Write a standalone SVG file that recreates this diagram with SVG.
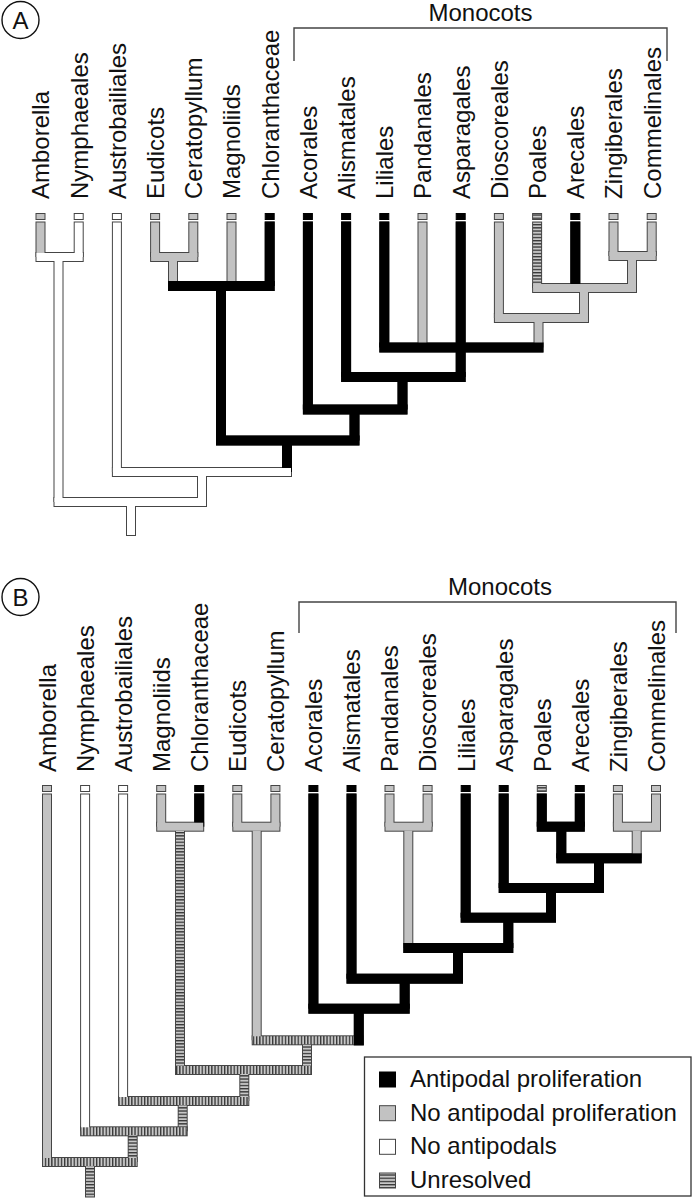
<svg xmlns="http://www.w3.org/2000/svg" width="693" height="1199" viewBox="0 0 693 1199">
<defs>
<pattern id="hs" patternUnits="userSpaceOnUse" x="0" y="0" width="10" height="3.2">
<rect width="10" height="3.2" fill="#c8c8c8"/><rect width="10" height="1.3" fill="#333"/>
</pattern>
<pattern id="vs" patternUnits="userSpaceOnUse" x="0" y="0" width="3.2" height="10">
<rect width="3.2" height="10" fill="#c8c8c8"/><rect width="1.3" height="10" fill="#333"/>
</pattern>
<style>
.lbl{font-family:"Liberation Sans",Arial,Helvetica,sans-serif;font-size:24px;fill:#111}
.o rect{fill:#454545}
.g{fill:#c2c2c2}
.w{fill:#fff}
.k{fill:#000}
.hv{fill:url(#hs)}
.hh{fill:url(#vs)}
.cg{fill:#c2c2c2;stroke:#454545;stroke-width:1}
.cw{fill:#fff;stroke:#454545;stroke-width:1}
.ck{fill:#000;stroke:#000;stroke-width:1}
.ch{fill:url(#hs);stroke:#454545;stroke-width:1}
.br{fill:none;stroke:#444;stroke-width:1.4}
.pm{fill:none;stroke:#111;stroke-width:1.4}
</style>
</defs>
<rect width="693" height="1199" fill="#fff"/>

<!-- ================= PANEL A ================= -->
<g id="A-label">
<circle class="pm" cx="20.5" cy="20" r="18.5"/>
<text class="lbl" x="20.5" y="29" text-anchor="middle" font-size="26">A</text>
</g>
<g id="A-monocots">
<path class="br" d="M294,61 V28 H667 V61"/>
<text class="lbl" x="480.5" y="21" text-anchor="middle">Monocots</text>
</g>

<g id="A-tips">
<g id="A-amborella"><rect class="cg" x="36" y="213.5" width="9" height="6"/><text class="lbl" transform="translate(49.3,199) rotate(-90)">Amborella</text></g>
<g id="A-nymphaeales"><rect class="cw" x="74.2" y="213.5" width="9" height="6"/><text class="lbl" transform="translate(87.5,199) rotate(-90)">Nymphaeales</text></g>
<g id="A-austrobailiales"><rect class="cw" x="112.4" y="213.5" width="9" height="6"/><text class="lbl" transform="translate(125.7,199) rotate(-90)">Austrobailiales</text></g>
<g id="A-eudicots"><rect class="cg" x="150.6" y="213.5" width="9" height="6"/><text class="lbl" transform="translate(163.9,199) rotate(-90)">Eudicots</text></g>
<g id="A-ceratopyllum"><rect class="cg" x="188.8" y="213.5" width="9" height="6"/><text class="lbl" transform="translate(202.1,199) rotate(-90)">Ceratopyllum</text></g>
<g id="A-magnoliids"><rect class="cg" x="227" y="213.5" width="9" height="6"/><text class="lbl" transform="translate(240.3,199) rotate(-90)">Magnoliids</text></g>
<g id="A-chloranthaceae"><rect class="ck" x="265.2" y="213.5" width="9" height="6"/><text class="lbl" transform="translate(278.5,199) rotate(-90)">Chloranthaceae</text></g>
<g id="A-acorales"><rect class="ck" x="303.4" y="213.5" width="9" height="6"/><text class="lbl" transform="translate(316.7,199) rotate(-90)">Acorales</text></g>
<g id="A-alismatales"><rect class="ck" x="341.6" y="213.5" width="9" height="6"/><text class="lbl" transform="translate(354.9,199) rotate(-90)">Alismatales</text></g>
<g id="A-liliales"><rect class="ck" x="379.8" y="213.5" width="9" height="6"/><text class="lbl" transform="translate(393.1,199) rotate(-90)">Liliales</text></g>
<g id="A-pandanales"><rect class="cg" x="418" y="213.5" width="9" height="6"/><text class="lbl" transform="translate(431.3,199) rotate(-90)">Pandanales</text></g>
<g id="A-asparagales"><rect class="ck" x="456.2" y="213.5" width="9" height="6"/><text class="lbl" transform="translate(469.5,199) rotate(-90)">Asparagales</text></g>
<g id="A-dioscoreales"><rect class="cg" x="494.4" y="213.5" width="9" height="6"/><text class="lbl" transform="translate(507.7,199) rotate(-90)">Dioscoreales</text></g>
<g id="A-poales"><rect class="ch" x="532.6" y="213.5" width="9" height="6"/><text class="lbl" transform="translate(545.9,199) rotate(-90)">Poales</text></g>
<g id="A-arecales"><rect class="ck" x="570.8" y="213.5" width="9" height="6"/><text class="lbl" transform="translate(584.1,199) rotate(-90)">Arecales</text></g>
<g id="A-zingiberales"><rect class="cg" x="609" y="213.5" width="9" height="6"/><text class="lbl" transform="translate(622.3,199) rotate(-90)">Zingiberales</text></g>
<g id="A-commelinales"><rect class="cg" x="647.2" y="213.5" width="9" height="6"/><text class="lbl" transform="translate(660.5,199) rotate(-90)">Commelinales</text></g>
</g>

<g id="A-connectors">
<g class="o">
<rect x="35.5" y="221.5" width="10" height="35.5"/>
<rect x="73.7" y="221.5" width="10" height="35.5"/>
<rect x="111.9" y="221.5" width="10" height="250.5"/>
<rect x="150.1" y="221.5" width="10" height="35.5"/>
<rect x="188.3" y="221.5" width="10" height="35.5"/>
<rect x="226.5" y="221.5" width="10" height="64.5"/>
<rect x="264.7" y="221.5" width="10" height="64.5"/>
<rect x="302.9" y="221.5" width="10" height="188"/>
<rect x="341.1" y="221.5" width="10" height="155.5"/>
<rect x="379.3" y="221.5" width="10" height="126"/>
<rect x="417.5" y="221.5" width="10" height="126"/>
<rect x="455.7" y="221.5" width="10" height="126"/>
<rect x="493.9" y="221.5" width="10" height="96.5"/>
<rect x="532.1" y="221.5" width="10" height="66.5"/>
<rect x="570.3" y="221.5" width="10" height="66.5"/>
<rect x="608.5" y="221.5" width="10" height="34.5"/>
<rect x="646.7" y="221.5" width="10" height="34.5"/>
<rect x="53.5" y="257" width="10" height="245"/>
<rect x="168" y="257" width="10" height="29"/>
<rect x="627" y="256" width="10" height="32"/>
<rect x="579" y="288" width="10" height="30"/>
<rect x="533.5" y="318" width="10" height="29.5"/>
<rect x="216" y="286" width="10" height="154.5"/>
<rect x="455.7" y="347.5" width="10" height="29.5"/>
<rect x="397.5" y="377" width="10" height="32.5"/>
<rect x="349.5" y="409.5" width="10" height="31"/>
<rect x="282" y="440.5" width="10" height="31.5"/>
<rect x="197" y="472" width="10" height="30"/>
<rect x="126" y="502" width="10" height="34"/>
<rect x="35.5" y="252" width="48.2" height="10"/>
<rect x="150.1" y="252" width="48.2" height="10"/>
<rect x="608.5" y="251" width="48.2" height="10"/>
<rect x="532.1" y="283" width="104.9" height="10"/>
<rect x="493.9" y="313" width="95.1" height="10"/>
<rect x="168" y="281" width="106.7" height="10"/>
<rect x="379.3" y="342.5" width="164.2" height="10"/>
<rect x="341.1" y="372" width="124.6" height="10"/>
<rect x="302.9" y="404.5" width="104.6" height="10"/>
<rect x="216" y="435.5" width="143.5" height="10"/>
<rect x="111.9" y="467" width="180.1" height="10"/>
<rect x="53.5" y="497" width="153.5" height="10"/>
</g>
<g id="A-fills">
<rect class="g" x="36.5" y="222.5" width="8" height="34.5"/>
<rect class="w" x="74.7" y="222.5" width="8" height="34.5"/>
<rect class="w" x="36.5" y="253" width="46.2" height="8"/>
<rect class="g" x="151.1" y="222.5" width="8" height="34.5"/>
<rect class="g" x="189.3" y="222.5" width="8" height="34.5"/>
<rect class="g" x="151.1" y="253" width="46.2" height="8"/>
<rect class="g" x="609.5" y="222.5" width="8" height="33.5"/>
<rect class="g" x="647.7" y="222.5" width="8" height="33.5"/>
<rect class="g" x="609.5" y="252" width="46.2" height="8"/>
<rect class="hv" x="533.1" y="222.5" width="8" height="65.5"/>
<rect class="k" x="570.3" y="221.5" width="10" height="66.5"/>
<rect class="g" x="628" y="260" width="8" height="28"/>
<rect class="g" x="533.1" y="284" width="102.9" height="8"/>
<rect class="g" x="494.9" y="222.5" width="8" height="95.5"/>
<rect class="g" x="580" y="292" width="8" height="26"/>
<rect class="g" x="494.9" y="314" width="93.1" height="8"/>
<rect class="k" x="379.3" y="221.5" width="10" height="126"/>
<rect class="g" x="418.5" y="222.5" width="8" height="125"/>
<rect class="k" x="455.7" y="221.5" width="10" height="126"/>
<rect class="g" x="534.5" y="322" width="8" height="25.5"/>
<rect class="k" x="379.3" y="342.5" width="164.2" height="10"/>
<rect class="k" x="341.1" y="221.5" width="10" height="155.5"/>
<rect class="k" x="455.7" y="351.5" width="10" height="25.5"/>
<rect class="k" x="341.1" y="372" width="124.6" height="10"/>
<rect class="k" x="302.9" y="221.5" width="10" height="188"/>
<rect class="k" x="397.5" y="381" width="10" height="28.5"/>
<rect class="k" x="302.9" y="404.5" width="104.6" height="10"/>
<rect class="g" x="169" y="261" width="8" height="25"/>
<rect class="g" x="227.5" y="222.5" width="8" height="63.5"/>
<rect class="k" x="264.7" y="221.5" width="10" height="64.5"/>
<rect class="k" x="168" y="281" width="106.7" height="10"/>
<rect class="k" x="216" y="290" width="10" height="150.5"/>
<rect class="k" x="349.5" y="413.5" width="10" height="27"/>
<rect class="k" x="216" y="435.5" width="143.5" height="10"/>
<rect class="w" x="112.9" y="222.5" width="8" height="249.5"/>
<rect class="k" x="282" y="444.5" width="10" height="27.5"/>
<rect class="w" x="112.9" y="468" width="178.1" height="8"/>
<rect class="w" x="54.5" y="261" width="8" height="241"/>
<rect class="w" x="198" y="476" width="8" height="26"/>
<rect class="w" x="54.5" y="498" width="151.5" height="8"/>
<rect class="w" x="127" y="506" width="8" height="29"/>
</g>
</g>

<!-- ================= PANEL B ================= -->
<g id="B-label">
<circle class="pm" cx="20.5" cy="597" r="18.5"/>
<text class="lbl" x="20.5" y="606" text-anchor="middle" font-size="26">B</text>
</g>
<g id="B-monocots">
<path class="br" d="M299,633 V602 H676 V633"/>
<text class="lbl" x="500" y="595" text-anchor="middle">Monocots</text>
</g>

<g id="B-tips">
<g id="B-amborella"><rect class="cg" x="42.5" y="785.5" width="9" height="6"/><text class="lbl" transform="translate(55.8,772) rotate(-90)">Amborella</text></g>
<g id="B-nymphaeales"><rect class="cw" x="80.6" y="785.5" width="9" height="6"/><text class="lbl" transform="translate(93.9,772) rotate(-90)">Nymphaeales</text></g>
<g id="B-austrobailiales"><rect class="cw" x="118.6" y="785.5" width="9" height="6"/><text class="lbl" transform="translate(131.9,772) rotate(-90)">Austrobailiales</text></g>
<g id="B-magnoliids"><rect class="cg" x="156.7" y="785.5" width="9" height="6"/><text class="lbl" transform="translate(170,772) rotate(-90)">Magnoliids</text></g>
<g id="B-chloranthaceae"><rect class="ck" x="194.7" y="785.5" width="9" height="6"/><text class="lbl" transform="translate(208,772) rotate(-90)">Chloranthaceae</text></g>
<g id="B-eudicots"><rect class="cg" x="232.8" y="785.5" width="9" height="6"/><text class="lbl" transform="translate(246.1,772) rotate(-90)">Eudicots</text></g>
<g id="B-ceratopyllum"><rect class="cg" x="270.9" y="785.5" width="9" height="6"/><text class="lbl" transform="translate(284.2,772) rotate(-90)">Ceratopyllum</text></g>
<g id="B-acorales"><rect class="ck" x="308.9" y="785.5" width="9" height="6"/><text class="lbl" transform="translate(322.2,772) rotate(-90)">Acorales</text></g>
<g id="B-alismatales"><rect class="ck" x="347" y="785.5" width="9" height="6"/><text class="lbl" transform="translate(360.3,772) rotate(-90)">Alismatales</text></g>
<g id="B-pandanales"><rect class="cg" x="385" y="785.5" width="9" height="6"/><text class="lbl" transform="translate(398.3,772) rotate(-90)">Pandanales</text></g>
<g id="B-dioscoreales"><rect class="cg" x="423.1" y="785.5" width="9" height="6"/><text class="lbl" transform="translate(436.4,772) rotate(-90)">Dioscoreales</text></g>
<g id="B-liliales"><rect class="ck" x="461.2" y="785.5" width="9" height="6"/><text class="lbl" transform="translate(474.5,772) rotate(-90)">Liliales</text></g>
<g id="B-asparagales"><rect class="ck" x="499.2" y="785.5" width="9" height="6"/><text class="lbl" transform="translate(512.5,772) rotate(-90)">Asparagales</text></g>
<g id="B-poales"><rect class="ch" x="537.3" y="785.5" width="9" height="6"/><text class="lbl" transform="translate(550.6,772) rotate(-90)">Poales</text></g>
<g id="B-arecales"><rect class="ck" x="575.3" y="785.5" width="9" height="6"/><text class="lbl" transform="translate(588.6,772) rotate(-90)">Arecales</text></g>
<g id="B-zingiberales"><rect class="cg" x="613.4" y="785.5" width="9" height="6"/><text class="lbl" transform="translate(626.7,772) rotate(-90)">Zingiberales</text></g>
<g id="B-commelinales"><rect class="cg" x="651.5" y="785.5" width="9" height="6"/><text class="lbl" transform="translate(664.8,772) rotate(-90)">Commelinales</text></g>
</g>

<g id="B-connectors">
<g class="o">
<rect x="42" y="793.5" width="10" height="368.5"/>
<rect x="80.1" y="793.5" width="10" height="337.8"/>
<rect x="118.1" y="793.5" width="10" height="307.5"/>
<rect x="156.2" y="793.5" width="10" height="33.2"/>
<rect x="194.2" y="793.5" width="10" height="33.2"/>
<rect x="232.3" y="793.5" width="10" height="33.2"/>
<rect x="270.4" y="793.5" width="10" height="33.2"/>
<rect x="308.4" y="793.5" width="10" height="215.2"/>
<rect x="346.5" y="793.5" width="10" height="185.2"/>
<rect x="384.5" y="793.5" width="10" height="33.2"/>
<rect x="422.6" y="793.5" width="10" height="33.2"/>
<rect x="460.7" y="793.5" width="10" height="124.2"/>
<rect x="498.7" y="793.5" width="10" height="94.5"/>
<rect x="536.8" y="793.5" width="10" height="33.2"/>
<rect x="574.8" y="793.5" width="10" height="33.2"/>
<rect x="612.9" y="793.5" width="10" height="33.2"/>
<rect x="651" y="793.5" width="10" height="33.2"/>
<rect x="556.3" y="826.7" width="10" height="31.6"/>
<rect x="631.7" y="826.7" width="10" height="31.6"/>
<rect x="594" y="858.3" width="10" height="29.7"/>
<rect x="546" y="888" width="10" height="29.7"/>
<rect x="503.3" y="917.7" width="10" height="30.3"/>
<rect x="403.3" y="826.7" width="10" height="121.3"/>
<rect x="453" y="948" width="10" height="30.7"/>
<rect x="399.7" y="978.7" width="10" height="30"/>
<rect x="353.8" y="1008.7" width="10" height="36.6"/>
<rect x="251.7" y="826.7" width="10" height="213.6"/>
<rect x="302" y="1040.3" width="10" height="29.7"/>
<rect x="175" y="826.7" width="10" height="243.3"/>
<rect x="239.3" y="1070" width="10" height="31"/>
<rect x="177.7" y="1101" width="10" height="30.3"/>
<rect x="127.7" y="1131.3" width="10" height="30.7"/>
<rect x="85" y="1162" width="10" height="35.5"/>
<rect x="536.8" y="821.7" width="48" height="10"/>
<rect x="612.9" y="821.7" width="48.1" height="10"/>
<rect x="556.3" y="853.3" width="85.4" height="10"/>
<rect x="498.7" y="883" width="105.3" height="10"/>
<rect x="460.7" y="912.7" width="95.3" height="10"/>
<rect x="384.5" y="821.7" width="48.1" height="10"/>
<rect x="403.3" y="943" width="110" height="10"/>
<rect x="346.5" y="973.7" width="116.5" height="10"/>
<rect x="308.4" y="1003.7" width="101.3" height="10"/>
<rect x="232.3" y="821.7" width="48.1" height="10"/>
<rect x="251.7" y="1035.3" width="112.1" height="10"/>
<rect x="156.2" y="821.7" width="48" height="10"/>
<rect x="175" y="1065" width="137" height="10"/>
<rect x="118.1" y="1096" width="131.2" height="10"/>
<rect x="80.1" y="1126.3" width="107.6" height="10"/>
<rect x="42" y="1157" width="95.7" height="10"/>
</g>
<g id="B-fills">
<rect class="k" x="536.8" y="793.5" width="10" height="33.2"/>
<rect class="k" x="574.8" y="793.5" width="10" height="33.2"/>
<rect class="k" x="536.8" y="821.7" width="48" height="10"/>
<rect class="g" x="613.9" y="794.5" width="8" height="32.2"/>
<rect class="g" x="652" y="794.5" width="8" height="32.2"/>
<rect class="g" x="613.9" y="822.7" width="46.1" height="8"/>
<rect class="k" x="556.3" y="830.7" width="10" height="27.6"/>
<rect class="g" x="632.7" y="830.7" width="8" height="27.6"/>
<rect class="k" x="556.3" y="853.3" width="85.4" height="10"/>
<rect class="k" x="498.7" y="793.5" width="10" height="94.5"/>
<rect class="k" x="594" y="862.3" width="10" height="25.7"/>
<rect class="k" x="498.7" y="883" width="105.3" height="10"/>
<rect class="k" x="460.7" y="793.5" width="10" height="124.2"/>
<rect class="k" x="546" y="892" width="10" height="25.7"/>
<rect class="k" x="460.7" y="912.7" width="95.3" height="10"/>
<rect class="g" x="385.5" y="794.5" width="8" height="32.2"/>
<rect class="g" x="423.6" y="794.5" width="8" height="32.2"/>
<rect class="g" x="385.5" y="822.7" width="46.1" height="8"/>
<rect class="g" x="404.3" y="830.7" width="8" height="117.3"/>
<rect class="k" x="503.3" y="921.7" width="10" height="26.3"/>
<rect class="k" x="403.3" y="943" width="110" height="10"/>
<rect class="k" x="346.5" y="793.5" width="10" height="185.2"/>
<rect class="k" x="453" y="952" width="10" height="26.7"/>
<rect class="k" x="346.5" y="973.7" width="116.5" height="10"/>
<rect class="k" x="308.4" y="793.5" width="10" height="215.2"/>
<rect class="k" x="399.7" y="982.7" width="10" height="26"/>
<rect class="k" x="308.4" y="1003.7" width="101.3" height="10"/>
<rect class="g" x="233.3" y="794.5" width="8" height="32.2"/>
<rect class="g" x="271.4" y="794.5" width="8" height="32.2"/>
<rect class="g" x="233.3" y="822.7" width="46.1" height="8"/>
<rect class="g" x="252.7" y="830.7" width="8" height="209.6"/>
<rect class="hh" x="252.7" y="1036.3" width="110.1" height="8"/>
<rect class="k" x="353.8" y="1012.7" width="10" height="32.6"/>
<rect class="g" x="157.2" y="794.5" width="8" height="32.2"/>
<rect class="k" x="194.2" y="793.5" width="10" height="33.2"/>
<rect class="g" x="157.2" y="822.7" width="46" height="8"/>
<rect class="hv" x="176" y="830.7" width="8" height="239.3"/>
<rect class="hv" x="303" y="1044.3" width="8" height="25.7"/>
<rect class="hh" x="176" y="1066" width="135" height="8"/>
<rect class="w" x="119.1" y="794.5" width="8" height="306.5"/>
<rect class="hv" x="240.3" y="1074" width="8" height="27"/>
<rect class="hh" x="119.1" y="1097" width="129.2" height="8"/>
<rect class="w" x="81.1" y="794.5" width="8" height="336.8"/>
<rect class="hv" x="178.7" y="1105" width="8" height="26.3"/>
<rect class="hh" x="81.1" y="1127.3" width="105.6" height="8"/>
<rect class="g" x="43" y="794.5" width="8" height="367.5"/>
<rect class="hv" x="128.7" y="1135.3" width="8" height="26.7"/>
<rect class="hh" x="43" y="1158" width="93.7" height="8"/>
<rect class="hv" x="86" y="1166" width="8" height="30.5"/>
</g>
</g>

<g id="legend">
<rect x="364.5" y="1057" width="326.5" height="139" fill="#fff" stroke="#333" stroke-width="1.3"/>
<g id="legend-antipodal-proliferation"><rect class="ck" x="379.5" y="1072" width="16" height="15"/><text class="lbl" x="410" y="1087">Antipodal proliferation</text></g>
<g id="legend-no-antipodal-proliferation"><rect class="cg" x="379.5" y="1105.7" width="16" height="15"/><text class="lbl" x="410" y="1120.7">No antipodal proliferation</text></g>
<g id="legend-no-antipodals"><rect class="cw" x="379.5" y="1139.3" width="16" height="15"/><text class="lbl" x="410" y="1154.3">No antipodals</text></g>
<g id="legend-unresolved"><rect class="ch" x="379.5" y="1173" width="16" height="15"/><text class="lbl" x="410" y="1188">Unresolved</text></g>
</g>
</svg>
